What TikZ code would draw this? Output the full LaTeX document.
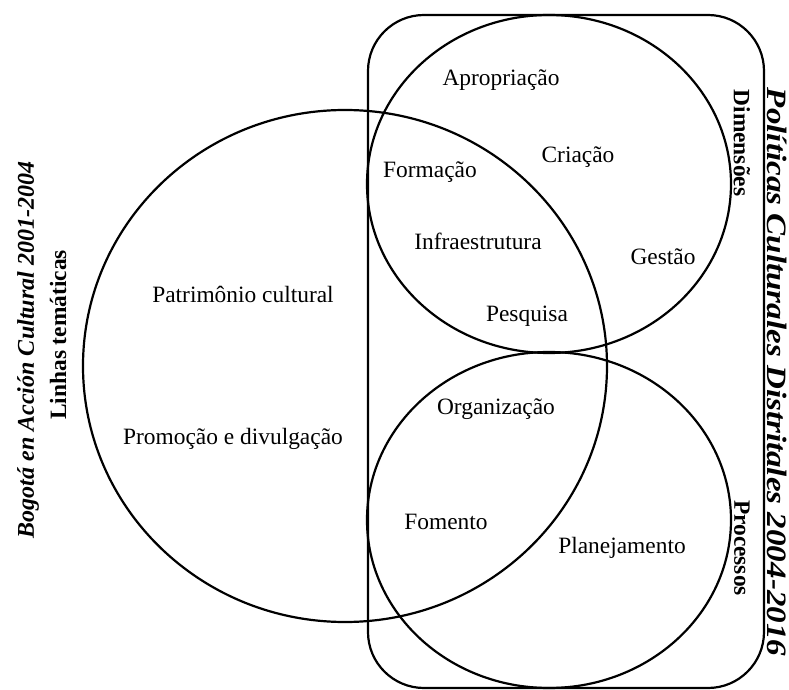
\documentclass[tikz,border=0pt]{standalone}
\usepackage{fontspec}
\setmainfont{Liberation Serif}
\usetikzlibrary{positioning}

\begin{document}
\begin{tikzpicture}[x=0.5pt,y=-0.5pt,line width=1.1pt,
  lbl/.style={font=\fontsize{11.7}{14}\selectfont,inner sep=0pt},
  side/.style={font=\fontsize{11.7}{14}\selectfont\bfseries,inner sep=0pt},
  ttl/.style={font=\fontsize{12}{14}\selectfont\bfseries\itshape,inner sep=0pt}]
  \useasboundingbox (0,0) rectangle (789,690);
  % frame and the three sets
  \draw[rounded corners=28pt] (368,15) rectangle (764,688);
  \draw (549,184) ellipse [x radius=182, y radius=169];
  \draw (549,520) ellipse [x radius=182, y radius=168];
  \draw (345,366) ellipse [x radius=262, y radius=256];
  % labels
  \foreach \x/\y/\n/\t in {501/80/apr/Apropriação,578/157/cri/Criação,
    430/172/for/Formação,478/241/inf/Infraestrutura,663/257/ges/Gestão,
    527/316/pes/Pesquisa,243/294/pat/Patrimônio cultural,
    496/409/org/Organização,233/439/pro/Promoção e divulgação,
    446/522/fom/Fomento,622/548/pla/Planejamento}{
    \node[lbl] (\n) at (\x,\y) {\t};
  }
  \node[side,rotate=-90] (dim) at (742,143) {Dimensões};
  \node[side,rotate=-90] (prc) at (742,548) {Processos};
  \node[ttl,rotate=-90,xscale=1.18,font=\fontsize{14}{16}\selectfont\bfseries\itshape] (pcd) at (777,372) {Políticas Culturales Distritales 2004-2016};
  \node[ttl,rotate=90] (bac) at (28,350) {Bogotá en Acción Cultural 2001-2004};
  \node[side,rotate=90] (lin) at (58,335) {Linhas temáticas};
\end{tikzpicture}
\end{document}
